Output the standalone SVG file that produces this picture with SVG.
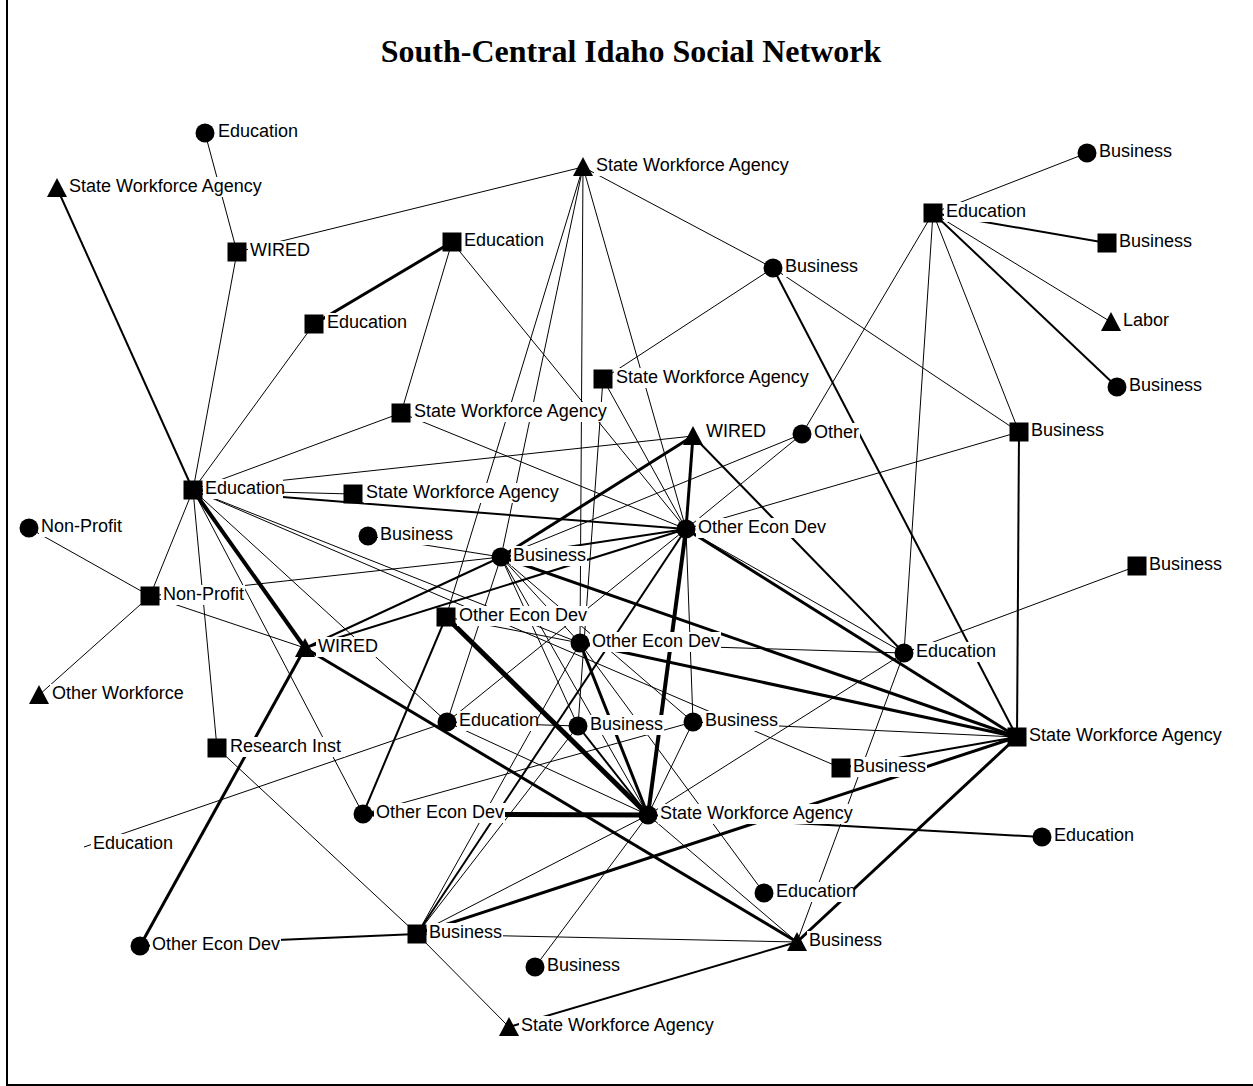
<svg xmlns="http://www.w3.org/2000/svg" width="1253" height="1086" viewBox="0 0 1253 1086">
<style>
  .e1 { stroke: #000; stroke-width: 1; fill: none; }
  .e2 { stroke: #000; stroke-width: 2; fill: none; }
  .e3 { stroke: #000; stroke-width: 3; fill: none; }
  .e4 { stroke: #000; stroke-width: 4; fill: none; }
  .e5 { stroke: #000; stroke-width: 5; fill: none; }
  .lbl { font-family: "Liberation Sans", Arial, sans-serif; font-size: 18px; fill: #000; }
  .bg { fill: #fff; }
  .title { font-family: "Liberation Serif", "Times New Roman", serif; font-size: 32px; font-weight: bold; fill: #000; }
  .node { fill: #000; }
</style>
<defs>
  <rect id="sq" x="-9.5" y="-9.5" width="19" height="19"/>
  <circle id="ci" r="9.5"/>
  <path id="tri" d="M0,-10 L10,9 L-10,9 Z"/>
</defs>
<rect width="1253" height="1086" fill="#fff"/>
<!-- frame -->
<path d="M7,0 V1085 H1253" stroke="#000" stroke-width="2" fill="none"/>
<text class="title" x="631" y="62" text-anchor="middle">South-Central Idaho Social Network</text>

<g id="edges">
  <line class="e1" x1="205" y1="133" x2="237" y2="252"/>
  <line class="e2" x1="57" y1="188" x2="193" y2="490"/>
  <line class="e1" x1="237" y1="252" x2="193" y2="490"/>
  <line class="e1" x1="237" y1="252" x2="583" y2="167"/>
  <line class="e3" x1="452" y1="242" x2="314" y2="324"/>
  <line class="e1" x1="452" y1="242" x2="401" y2="413"/>
  <line class="e1" x1="452" y1="242" x2="686" y2="529"/>
  <line class="e1" x1="314" y1="324" x2="193" y2="490"/>
  <line class="e1" x1="401" y1="413" x2="193" y2="490"/>
  <line class="e1" x1="401" y1="413" x2="686" y2="529"/>
  <line class="e1" x1="583" y1="167" x2="773" y2="268"/>
  <line class="e1" x1="583" y1="167" x2="446" y2="617"/>
  <line class="e1" x1="583" y1="167" x2="501" y2="557"/>
  <line class="e1" x1="583" y1="167" x2="580" y2="643"/>
  <line class="e1" x1="583" y1="167" x2="686" y2="529"/>
  <line class="e1" x1="603" y1="379" x2="773" y2="268"/>
  <line class="e1" x1="603" y1="379" x2="686" y2="529"/>
  <line class="e1" x1="603" y1="379" x2="578" y2="726"/>
  <line class="e1" x1="773" y1="268" x2="1019" y2="432"/>
  <line class="e2" x1="773" y1="268" x2="1017" y2="737"/>
  <line class="e1" x1="933" y1="213" x2="1087" y2="153"/>
  <line class="e2" x1="933" y1="213" x2="1107" y2="243"/>
  <line class="e1" x1="933" y1="213" x2="1111" y2="322"/>
  <line class="e2" x1="933" y1="213" x2="1117" y2="387"/>
  <line class="e1" x1="933" y1="213" x2="1019" y2="432"/>
  <line class="e1" x1="933" y1="213" x2="904" y2="653"/>
  <line class="e1" x1="933" y1="213" x2="802" y2="434"/>
  <line class="e2" x1="1019" y1="432" x2="1017" y2="737"/>
  <line class="e1" x1="1019" y1="432" x2="686" y2="529"/>
  <line class="e1" x1="1137" y1="566" x2="904" y2="653"/>
  <line class="e3" x1="1017" y1="737" x2="686" y2="529"/>
  <line class="e3" x1="1017" y1="737" x2="501" y2="557"/>
  <line class="e3" x1="1017" y1="737" x2="580" y2="643"/>
  <line class="e1" x1="1017" y1="737" x2="693" y2="722"/>
  <line class="e3" x1="1017" y1="737" x2="797" y2="942"/>
  <line class="e2" x1="1017" y1="737" x2="841" y2="768"/>
  <line class="e3" x1="1017" y1="737" x2="417" y2="934"/>
  <line class="e1" x1="686" y1="529" x2="904" y2="653"/>
  <line class="e3" x1="693" y1="436" x2="686" y2="529"/>
  <line class="e2" x1="693" y1="436" x2="904" y2="653"/>
  <line class="e3" x1="693" y1="436" x2="501" y2="557"/>
  <line class="e1" x1="693" y1="436" x2="193" y2="490"/>
  <line class="e2" x1="305" y1="648" x2="501" y2="557"/>
  <line class="e2" x1="305" y1="648" x2="686" y2="529"/>
  <line class="e4" x1="686" y1="529" x2="648" y2="815"/>
  <line class="e5" x1="446" y1="617" x2="648" y2="815"/>
  <line class="e5" x1="363" y1="814" x2="648" y2="815"/>
  <line class="e3" x1="305" y1="648" x2="797" y2="942"/>
  <line class="e4" x1="193" y1="490" x2="305" y2="648"/>
  <line class="e1" x1="193" y1="490" x2="353" y2="494"/>
  <line class="e2" x1="193" y1="490" x2="686" y2="529"/>
  <line class="e1" x1="193" y1="490" x2="150" y2="596"/>
  <line class="e1" x1="193" y1="490" x2="217" y2="748"/>
  <line class="e1" x1="193" y1="490" x2="363" y2="814"/>
  <line class="e1" x1="193" y1="490" x2="580" y2="643"/>
  <line class="e1" x1="193" y1="490" x2="447" y2="722"/>
  <line class="e1" x1="29" y1="528" x2="150" y2="596"/>
  <line class="e1" x1="150" y1="596" x2="39" y2="695"/>
  <line class="e1" x1="150" y1="596" x2="305" y2="648"/>
  <line class="e1" x1="150" y1="596" x2="501" y2="557"/>
  <line class="e1" x1="217" y1="748" x2="417" y2="934"/>
  <line class="e3" x1="140" y1="946" x2="305" y2="648"/>
  <line class="e2" x1="140" y1="946" x2="417" y2="934"/>
  <line class="e1" x1="84" y1="847" x2="447" y2="722"/>
  <line class="e1" x1="417" y1="934" x2="509" y2="1027"/>
  <line class="e1" x1="417" y1="934" x2="797" y2="942"/>
  <line class="e1" x1="417" y1="934" x2="580" y2="643"/>
  <line class="e2" x1="417" y1="934" x2="686" y2="529"/>
  <line class="e1" x1="417" y1="934" x2="578" y2="726"/>
  <line class="e1" x1="417" y1="934" x2="648" y2="815"/>
  <line class="e2" x1="509" y1="1027" x2="797" y2="942"/>
  <line class="e1" x1="535" y1="967" x2="648" y2="815"/>
  <line class="e1" x1="580" y1="643" x2="764" y2="893"/>
  <line class="e1" x1="904" y1="653" x2="797" y2="942"/>
  <line class="e1" x1="648" y1="815" x2="797" y2="942"/>
  <line class="e1" x1="648" y1="815" x2="904" y2="653"/>
  <line class="e2" x1="648" y1="815" x2="1042" y2="837"/>
  <line class="e1" x1="802" y1="434" x2="501" y2="557"/>
  <line class="e1" x1="802" y1="434" x2="686" y2="529"/>
  <line class="e2" x1="446" y1="617" x2="363" y2="814"/>
  <line class="e1" x1="363" y1="814" x2="693" y2="722"/>
  <line class="e1" x1="368" y1="536" x2="501" y2="557"/>
  <line class="e1" x1="501" y1="557" x2="447" y2="722"/>
  <line class="e1" x1="501" y1="557" x2="580" y2="643"/>
  <line class="e1" x1="501" y1="557" x2="578" y2="726"/>
  <line class="e1" x1="501" y1="557" x2="648" y2="815"/>
  <line class="e1" x1="501" y1="557" x2="693" y2="722"/>
  <line class="e2" x1="501" y1="557" x2="686" y2="529"/>
  <line class="e1" x1="686" y1="529" x2="693" y2="722"/>
  <line class="e1" x1="686" y1="529" x2="447" y2="722"/>
  <line class="e3" x1="580" y1="643" x2="648" y2="815"/>
  <line class="e1" x1="580" y1="643" x2="904" y2="653"/>
  <line class="e1" x1="446" y1="617" x2="580" y2="643"/>
  <line class="e1" x1="447" y1="722" x2="578" y2="726"/>
  <line class="e2" x1="578" y1="726" x2="648" y2="815"/>
  <line class="e1" x1="693" y1="722" x2="648" y2="815"/>
  <line class="e1" x1="447" y1="722" x2="648" y2="815"/>
  <line class="e1" x1="193" y1="490" x2="841" y2="768"/>
</g>

<g id="n-eduT"><rect class="bg" x="216" y="122" width="80" height="20"/><text class="lbl" x="218" y="137">Education</text><use href="#ci" class="node" x="205" y="133"/></g>
<g id="n-swaTL"><rect class="bg" x="67" y="177" width="201" height="20"/><text class="lbl" x="69" y="192">State Workforce Agency</text><use href="#tri" class="node" x="57" y="188"/></g>
<g id="n-wiredTL"><rect class="bg" x="248" y="241" width="61" height="20"/><text class="lbl" x="250" y="256">WIRED</text><use href="#sq" class="node" x="237" y="252"/></g>
<g id="n-eduS1"><rect class="bg" x="462" y="231" width="80" height="20"/><text class="lbl" x="464" y="246">Education</text><use href="#sq" class="node" x="452" y="242"/></g>
<g id="n-eduS2"><rect class="bg" x="325" y="313" width="80" height="20"/><text class="lbl" x="327" y="328">Education</text><use href="#sq" class="node" x="314" y="324"/></g>
<g id="n-swaS1"><rect class="bg" x="412" y="402" width="201" height="20"/><text class="lbl" x="414" y="417">State Workforce Agency</text><use href="#sq" class="node" x="401" y="413"/></g>
<g id="n-swaTop"><rect class="bg" x="594" y="156" width="201" height="20"/><text class="lbl" x="596" y="171">State Workforce Agency</text><use href="#tri" class="node" x="583" y="167"/></g>
<g id="n-swaS2"><rect class="bg" x="614" y="368" width="201" height="20"/><text class="lbl" x="616" y="383">State Workforce Agency</text><use href="#sq" class="node" x="603" y="379"/></g>
<g id="n-busC1"><rect class="bg" x="783" y="257" width="76" height="20"/><text class="lbl" x="785" y="272">Business</text><use href="#ci" class="node" x="773" y="268"/></g>
<g id="n-eduS3"><rect class="bg" x="944" y="202" width="80" height="20"/><text class="lbl" x="946" y="217">Education</text><use href="#sq" class="node" x="933" y="213"/></g>
<g id="n-busC2"><rect class="bg" x="1097" y="142" width="76" height="20"/><text class="lbl" x="1099" y="157">Business</text><use href="#ci" class="node" x="1087" y="153"/></g>
<g id="n-busS1"><rect class="bg" x="1117" y="232" width="76" height="20"/><text class="lbl" x="1119" y="247">Business</text><use href="#sq" class="node" x="1107" y="243"/></g>
<g id="n-labor"><rect class="bg" x="1121" y="311" width="46" height="20"/><text class="lbl" x="1123" y="326">Labor</text><use href="#tri" class="node" x="1111" y="322"/></g>
<g id="n-busC3"><rect class="bg" x="1127" y="376" width="76" height="20"/><text class="lbl" x="1129" y="391">Business</text><use href="#ci" class="node" x="1117" y="387"/></g>
<g id="n-busS2"><rect class="bg" x="1029" y="421" width="76" height="20"/><text class="lbl" x="1031" y="436">Business</text><use href="#sq" class="node" x="1019" y="432"/></g>
<g id="n-busS3"><rect class="bg" x="1147" y="555" width="76" height="20"/><text class="lbl" x="1149" y="570">Business</text><use href="#sq" class="node" x="1137" y="566"/></g>
<g id="n-swaS3"><rect class="bg" x="1027" y="726" width="201" height="20"/><text class="lbl" x="1029" y="741">State Workforce Agency</text><use href="#sq" class="node" x="1017" y="737"/></g>
<g id="n-eduC1"><rect class="bg" x="914" y="642" width="80" height="20"/><text class="lbl" x="916" y="657">Education</text><use href="#ci" class="node" x="904" y="653"/></g>
<g id="n-other"><rect class="bg" x="812" y="423" width="48" height="20"/><text class="lbl" x="814" y="438">Other</text><use href="#ci" class="node" x="802" y="434"/></g>
<g id="n-wiredT"><rect class="bg" x="704" y="422" width="61" height="20"/><text class="lbl" x="706" y="437">WIRED</text><use href="#tri" class="node" x="693" y="436"/></g>
<g id="n-oedC1"><rect class="bg" x="696" y="518" width="131" height="20"/><text class="lbl" x="698" y="533">Other Econ Dev</text><use href="#ci" class="node" x="686" y="529"/></g>
<g id="n-busC4"><rect class="bg" x="703" y="711" width="76" height="20"/><text class="lbl" x="705" y="726">Business</text><use href="#ci" class="node" x="693" y="722"/></g>
<g id="n-oedC2"><rect class="bg" x="590" y="632" width="131" height="20"/><text class="lbl" x="592" y="647">Other Econ Dev</text><use href="#ci" class="node" x="580" y="643"/></g>
<g id="n-busC5"><rect class="bg" x="511" y="546" width="76" height="20"/><text class="lbl" x="513" y="561">Business</text><use href="#ci" class="node" x="501" y="557"/></g>
<g id="n-busC6"><rect class="bg" x="378" y="525" width="76" height="20"/><text class="lbl" x="380" y="540">Business</text><use href="#ci" class="node" x="368" y="536"/></g>
<g id="n-swaS4"><rect class="bg" x="364" y="483" width="201" height="20"/><text class="lbl" x="366" y="498">State Workforce Agency</text><use href="#sq" class="node" x="353" y="494"/></g>
<g id="n-oedS"><rect class="bg" x="457" y="606" width="131" height="20"/><text class="lbl" x="459" y="621">Other Econ Dev</text><use href="#sq" class="node" x="446" y="617"/></g>
<g id="n-eduC2"><rect class="bg" x="457" y="711" width="80" height="20"/><text class="lbl" x="459" y="726">Education</text><use href="#ci" class="node" x="447" y="722"/></g>
<g id="n-busC7"><rect class="bg" x="588" y="715" width="76" height="20"/><text class="lbl" x="590" y="730">Business</text><use href="#ci" class="node" x="578" y="726"/></g>
<g id="n-wiredL"><rect class="bg" x="316" y="637" width="61" height="20"/><text class="lbl" x="318" y="652">WIRED</text><use href="#tri" class="node" x="305" y="648"/></g>
<g id="n-eduS4"><rect class="bg" x="203" y="479" width="80" height="20"/><text class="lbl" x="205" y="494">Education</text><use href="#sq" class="node" x="193" y="490"/></g>
<g id="n-npC"><rect class="bg" x="39" y="517" width="84" height="20"/><text class="lbl" x="41" y="532">Non-Profit</text><use href="#ci" class="node" x="29" y="528"/></g>
<g id="n-npS"><rect class="bg" x="161" y="585" width="84" height="20"/><text class="lbl" x="163" y="600">Non-Profit</text><use href="#sq" class="node" x="150" y="596"/></g>
<g id="n-owT"><rect class="bg" x="50" y="684" width="138" height="20"/><text class="lbl" x="52" y="699">Other Workforce</text><use href="#tri" class="node" x="39" y="695"/></g>
<g id="n-resS"><rect class="bg" x="228" y="737" width="117" height="20"/><text class="lbl" x="230" y="752">Research Inst</text><use href="#sq" class="node" x="217" y="748"/></g>
<g id="n-eduX"><rect class="bg" x="91" y="834" width="80" height="20"/><text class="lbl" x="93" y="849">Education</text></g>
<g id="n-oedC3"><rect class="bg" x="374" y="803" width="131" height="20"/><text class="lbl" x="376" y="818">Other Econ Dev</text><use href="#ci" class="node" x="363" y="814"/></g>
<g id="n-swaC"><rect class="bg" x="658" y="804" width="201" height="20"/><text class="lbl" x="660" y="819">State Workforce Agency</text><use href="#ci" class="node" x="648" y="815"/></g>
<g id="n-busS4"><rect class="bg" x="851" y="757" width="76" height="20"/><text class="lbl" x="853" y="772">Business</text><use href="#sq" class="node" x="841" y="768"/></g>
<g id="n-eduC3"><rect class="bg" x="1052" y="826" width="80" height="20"/><text class="lbl" x="1054" y="841">Education</text><use href="#ci" class="node" x="1042" y="837"/></g>
<g id="n-eduC4"><rect class="bg" x="774" y="882" width="80" height="20"/><text class="lbl" x="776" y="897">Education</text><use href="#ci" class="node" x="764" y="893"/></g>
<g id="n-busT"><rect class="bg" x="807" y="931" width="76" height="20"/><text class="lbl" x="809" y="946">Business</text><use href="#tri" class="node" x="797" y="942"/></g>
<g id="n-busS5"><rect class="bg" x="427" y="923" width="76" height="20"/><text class="lbl" x="429" y="938">Business</text><use href="#sq" class="node" x="417" y="934"/></g>
<g id="n-oedC4"><rect class="bg" x="150" y="935" width="131" height="20"/><text class="lbl" x="152" y="950">Other Econ Dev</text><use href="#ci" class="node" x="140" y="946"/></g>
<g id="n-busC8"><rect class="bg" x="545" y="956" width="76" height="20"/><text class="lbl" x="547" y="971">Business</text><use href="#ci" class="node" x="535" y="967"/></g>
<g id="n-swaT"><rect class="bg" x="519" y="1016" width="201" height="20"/><text class="lbl" x="521" y="1031">State Workforce Agency</text><use href="#tri" class="node" x="509" y="1027"/></g>
</svg>
